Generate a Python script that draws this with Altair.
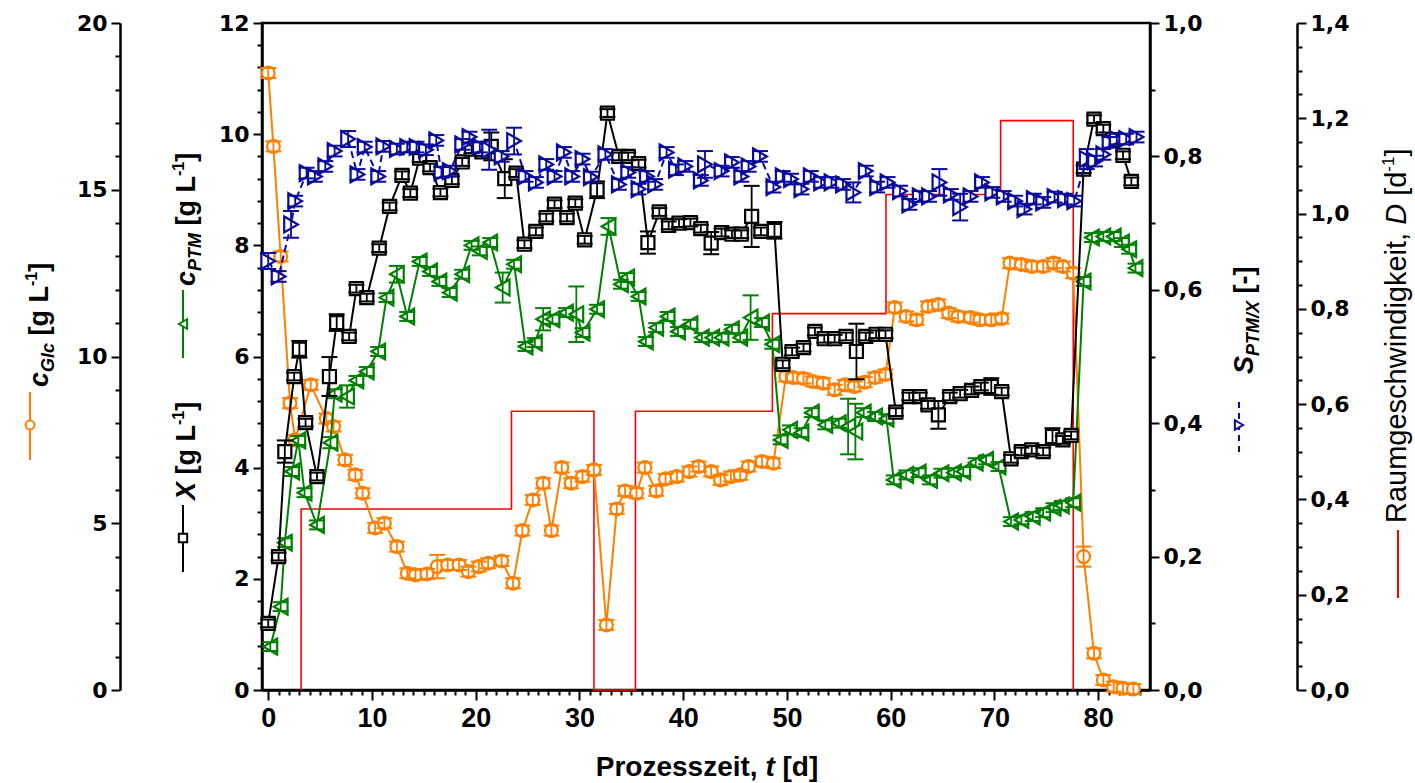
import altair as alt
import pandas as pd

# ---------------- data ----------------
# Glucose concentration c_Glc [g/L]  (orange, outer left axis 0-20)
t_glc = [0, 0.5, 1.2, 2.1, 2.6, 4.1, 5.6, 6.3, 7.4, 8.4, 9.1, 10.3, 11.2, 12.4, 13.4, 14.2, 15.3, 16.3, 17.3, 18.4,
         19.3, 20.3, 21.2, 22.5, 23.6, 24.5, 25.5, 26.5, 27.3, 28.3, 29.2, 30.3, 31.4, 32.6, 33.6, 34.4, 35.5, 36.3,
         37.4, 38.3, 39.4, 40.6, 41.5, 42.7, 43.6, 44.6, 45.5, 46.3, 47.6, 48.7, 49.9, 50.6, 51.6, 52.5, 53.5, 54.6,
         55.6, 56.5, 57.5, 58.5, 59.5, 60.4, 61.5, 62.5, 63.6, 64.6, 65.6, 66.5, 67.7, 68.6, 69.7, 70.7, 71.5, 72.6,
         73.6, 74.7, 75.7, 76.6, 77.6, 78.6, 79.6, 80.5, 81.5, 82.4, 83.4]
v_glc = [18.5, 16.3, 13.0, 8.6, 7.5, 9.15, 8.14, 7.9, 6.9, 6.45, 5.9, 4.86, 5.0, 4.3, 3.5, 3.45, 3.48, 3.7, 3.75, 3.75,
         3.55, 3.7, 3.8, 3.87, 3.2, 4.78, 5.7, 6.2, 4.78, 6.67, 6.2, 6.4, 6.6, 1.95, 5.43, 5.97, 5.9, 6.67,
         5.97, 6.33, 6.4, 6.55, 6.7, 6.55, 6.3, 6.4, 6.45, 6.7, 6.85, 6.8, 9.4, 9.37, 9.34, 9.25, 9.2, 9.0,
         9.15, 9.1, 9.23, 9.37, 9.46, 11.47, 11.2, 11.1, 11.5, 11.56, 11.3, 11.2, 11.17, 11.1, 11.1, 11.14, 12.8, 12.76,
         12.7, 12.7, 12.8, 12.7, 12.5, 4.0, 1.1, 0.3, 0.1, 0.05, 0.03]
glc_err_default = 0.15
glc_err_big = {16.3: 0.35, 78.6: 0.3}

# Biomass X [g/L]  (black, left axis 0-12)
t_x = [0, 1.0, 1.6, 2.5, 3.0, 3.6, 4.7, 5.9, 6.6, 7.8, 8.5, 9.5, 10.7, 11.7, 12.9, 13.7, 14.6, 15.6, 16.6, 17.7,
       18.7, 19.6, 20.6, 21.5, 22.8, 23.9, 24.7, 25.8, 26.8, 27.6, 28.8, 29.6, 30.5, 31.7, 32.7, 33.8, 34.7, 35.7,
       36.6, 37.7, 38.6, 39.6, 40.7, 41.7, 42.7, 43.7, 44.7, 45.6, 46.6, 47.5, 48.8, 49.6, 50.5, 51.6, 52.7, 53.6,
       54.6, 55.7, 56.7, 57.6, 58.6, 59.5, 60.5, 61.8, 62.8, 63.6, 64.6, 65.7, 66.7, 67.8, 68.7, 69.7, 70.7, 71.6,
       72.6, 73.6, 74.7, 75.6, 76.6, 77.4, 78.6, 79.6, 80.5, 81.4, 82.4, 83.2]
v_x = [1.2, 2.4, 4.29, 5.64, 6.13, 4.81, 3.84, 5.64, 6.61, 6.36, 7.22, 7.06, 7.95, 8.7, 9.26, 8.94, 9.57, 9.4, 8.95, 9.17,
       9.5, 9.73, 9.68, 9.78, 9.2, 9.3, 8.02, 8.25, 8.5, 8.74, 8.5, 8.76, 8.1, 9.0, 10.38, 9.6, 9.6, 9.47,
       8.05, 8.6, 8.36, 8.4, 8.41, 8.3, 8.04, 8.23, 8.2, 8.2, 8.52, 8.25, 8.27, 5.86, 6.09, 6.16, 6.45, 6.32,
       6.32, 6.36, 6.09, 6.36, 6.4, 6.4, 5.0, 5.28, 5.28, 5.13, 4.95, 5.28, 5.33, 5.39, 5.46, 5.46, 5.37, 4.16,
       4.29, 4.32, 4.29, 4.56, 4.5, 4.58, 9.37, 10.27, 10.1, 9.9, 9.62, 9.15]
x_err_default = 0.07
x_err_big = {1.6: 0.2, 3.0: 0.15, 5.9: 0.35, 6.6: 0.15, 21.5: 0.25, 22.8: 0.35, 31.7: 0.15, 36.6: 0.2,
             42.7: 0.2, 46.6: 0.55, 48.8: 0.15, 56.7: 0.5, 64.6: 0.25, 69.7: 0.15, 75.6: 0.15}

# Product c_PTM [g/L]  (green, left axis 0-12)
t_p = [0.2, 1.2, 1.6, 2.3, 2.9, 3.5, 4.7, 6.0, 6.4, 7.6, 8.5, 9.5, 10.6, 11.4, 12.4, 13.4, 14.6, 15.6, 16.5, 17.5,
       18.7, 19.6, 20.4, 21.4, 22.6, 23.7, 24.8, 25.7, 26.5, 27.4, 28.7, 29.7, 30.3, 31.7, 32.8, 34.0, 34.6, 35.7,
       36.4, 37.4, 38.5, 39.5, 40.7, 41.8, 42.8, 43.7, 44.7, 45.5, 46.5, 47.6, 48.6, 49.4, 50.3, 51.4, 52.4, 53.7,
       55.0, 55.9, 56.6, 57.4, 58.5, 59.6, 60.3, 61.5, 62.7, 63.8, 64.9, 66.1, 67.0, 68.2, 69.2, 70.4, 71.6, 72.6,
       73.7, 74.7, 75.7, 76.5, 77.6, 78.6, 79.4, 80.5, 81.5, 82.3, 83.0, 83.6]
v_p = [0.78, 1.5, 2.65, 3.93, 4.49, 3.55, 2.97, 4.45, 5.33, 5.28, 5.57, 5.73, 6.09, 7.06, 7.48, 6.72, 7.71, 7.53, 7.35, 7.15,
       7.48, 8.0, 7.9, 8.05, 7.24, 7.66, 6.18, 6.25, 6.67, 6.67, 6.79, 6.76, 6.43, 6.85, 8.34, 7.3, 7.42, 7.08,
       6.27, 6.52, 6.72, 6.45, 6.58, 6.34, 6.34, 6.34, 6.49, 6.34, 6.7, 6.61, 6.22, 4.5, 4.68, 4.63, 4.99, 4.77,
       4.8, 4.74, 4.65, 4.99, 4.92, 4.88, 3.78, 3.87, 3.91, 3.78, 3.9, 3.91, 3.93, 4.09, 4.14, 4.02, 3.03, 3.06,
       3.12, 3.19, 3.28, 3.32, 3.37, 7.35, 8.14, 8.16, 8.16, 8.05, 7.93, 7.59]
p_err_default = 0.08
p_err_big = {6.0: 0.1, 7.6: 0.2, 12.4: 0.15, 22.6: 0.27, 26.5: 0.2, 29.7: 0.5, 32.8: 0.15, 46.5: 0.4,
             55.9: 0.5, 56.6: 0.5}

# Selectivity S_PTM/X [-]  (blue, right axis 0-1)
t_s = [0, 1.0, 2.2, 2.6, 3.7, 4.5, 5.5, 6.4, 7.7, 8.6, 9.3, 10.6, 11.1, 12.4, 13.4, 14.3, 15.2, 16.2, 16.7, 17.5,
       18.7, 19.4, 20.4, 21.3, 22.5, 23.7, 24.8, 25.8, 26.8, 27.6, 28.5, 29.3, 30.3, 31.1, 32.5, 33.8, 34.7, 35.7,
       36.5, 37.3, 38.4, 39.3, 40.2, 41.7, 42.1, 43.7, 44.7, 45.6, 46.3, 47.4, 48.7, 49.6, 50.4, 51.4, 52.3, 53.3,
       54.3, 55.4, 56.4, 57.6, 58.7, 59.7, 60.9, 61.8, 62.8, 63.7, 64.7, 65.8, 66.7, 67.7, 68.8, 69.8, 70.9, 72.0,
       72.9, 73.8, 74.7, 75.8, 76.8, 77.7, 78.9, 79.7, 80.5, 81.1, 81.8, 82.7, 83.7]
v_s = [0.643, 0.62, 0.698, 0.733, 0.775, 0.77, 0.785, 0.808, 0.826, 0.773, 0.814, 0.77, 0.815, 0.811, 0.814, 0.814,
       0.81, 0.824, 0.776, 0.778, 0.818, 0.829, 0.814, 0.81, 0.80, 0.823, 0.77, 0.761, 0.788, 0.77, 0.806, 0.77,
       0.796, 0.769, 0.803, 0.758, 0.776, 0.751, 0.77, 0.758, 0.806, 0.78, 0.785, 0.764, 0.788, 0.778, 0.791, 0.77,
       0.785, 0.8, 0.754, 0.77, 0.766, 0.751, 0.77, 0.761, 0.761, 0.758, 0.746, 0.778, 0.754, 0.761, 0.748, 0.728,
       0.74, 0.74, 0.761, 0.743, 0.724, 0.74, 0.761, 0.746, 0.74, 0.733, 0.721, 0.736, 0.731, 0.739, 0.736, 0.733,
       0.796, 0.793, 0.803, 0.821, 0.826, 0.826, 0.829]
s_err_default = 0.008
s_err_big = {0: 0.012, 2.2: 0.02, 7.7: 0.012, 21.3: 0.03, 23.7: 0.02, 42.1: 0.02, 56.4: 0.015, 64.7: 0.02,
             66.7: 0.02, 78.9: 0.015}

# Dilution rate D [1/d]  (red step line, outer right axis 0-1.4)
t_d = [3.17, 3.17, 23.45, 31.4, 35.4, 48.6, 59.55, 70.6, 77.6]
v_d = [0.0, 0.38, 0.585, 0.0, 0.585, 0.79, 1.04, 1.195, 0.0]

# ---------------- layout ----------------
L, T = 262, 23          # plot origin in the page
W, H = 888, 667         # plot area
C_GLC, C_X, C_P, C_S, C_D = "#FF8000", "#000000", "#008000", "#0A0A9E", "#FF0000"
TICK_FONT = "DejaVu Sans"
TXT_FONT = "Liberation Sans"

x_scale = alt.Scale(domain=[-0.6, 85.0], nice=False, zero=False)
x_axis = alt.Axis(
    values=list(range(0, 85)),
    labelExpr="datum.value % 10 === 0 ? datum.label : ''",
    tickSize={"condition": {"test": "datum.value % 10 === 0", "value": 10}, "value": 5},
    tickWidth=2, tickColor="black", domainWidth=2.5, domainColor="black",
    labelFont=TXT_FONT, labelFontSize=27, labelFontWeight="bold",
    labelColor="black", labelPadding=5, labelFlush=False, labelOverlap=False, grid=False, title=None)


def y_axis(orient, offset, values, major_test, label_fmt):
    return alt.Axis(
        orient=orient, offset=offset, values=values,
        labelExpr=f"({major_test}) ? {label_fmt} : ''",
        tickSize={"condition": {"test": major_test, "value": 9}, "value": 5},
        tickWidth=2, tickColor="black", domainWidth=2.5, domainColor="black",
        labelFont=TICK_FONT, labelFontSize=22, labelFontWeight="bold", labelColor="black",
        labelPadding=4, labelFlush=False, labelOverlap=False, grid=False, title=None)


ax_x = y_axis("left", 0, [round(i * 0.4, 1) for i in range(31)],
              "round(datum.value*10) % 20 === 0", "format(datum.value, 'd')")
ax_glc = y_axis("left", 142, list(range(0, 21)), "datum.value % 5 === 0", "format(datum.value, 'd')")
ax_s = y_axis("right", 0, [i / 10 for i in range(11)], "round(datum.value*10) % 2 === 0",
              "replace(format(datum.value, '.1f'), '.', ',')")
ax_d = y_axis("right", 147, [i / 20 for i in range(29)], "round(datum.value*20) % 4 === 0",
              "replace(format(datum.value, '.1f'), '.', ',')")


def series(t, v, err_default, err_big, color, shape, size, domain, axis, dash=None):
    e = [err_big.get(tt, err_default) for tt in t]
    df = pd.DataFrame({"t": t, "v": v, "lo": [a - b for a, b in zip(v, e)], "hi": [a + b for a, b in zip(v, e)]})
    ys = alt.Scale(domain=domain, nice=False, zero=False)
    base = alt.Chart(df)
    X = alt.X("t:Q", scale=x_scale, axis=x_axis)
    line = base.mark_line(color=color, strokeWidth=2, strokeDash=dash if dash else [1, 0]).encode(
        x=X, y=alt.Y("v:Q", scale=ys, axis=axis), order="t:Q")
    pts = base.mark_point(shape=shape, size=size, filled=True, fill="white", stroke=color,
                          strokeWidth=2.2, opacity=1).encode(x=X, y=alt.Y("v:Q", scale=ys, axis=axis))
    rule = base.mark_rule(color=color, strokeWidth=1.8).encode(
        x=X, y=alt.Y("lo:Q", scale=ys, axis=axis), y2="hi:Q")
    cap_lo = base.mark_tick(orient="horizontal", size=16, thickness=2, color=color, opacity=1).encode(
        x=X, y=alt.Y("lo:Q", scale=ys, axis=axis))
    cap_hi = base.mark_tick(orient="horizontal", size=16, thickness=2, color=color, opacity=1).encode(
        x=X, y=alt.Y("hi:Q", scale=ys, axis=axis))
    return alt.layer(line, pts, rule, cap_lo, cap_hi)


layer_d = alt.Chart(pd.DataFrame({"t": t_d, "v": v_d})).mark_line(
    color=C_D, strokeWidth=1.6, interpolate="step-after").encode(
    x=alt.X("t:Q", scale=x_scale, axis=x_axis),
    y=alt.Y("v:Q", scale=alt.Scale(domain=[0, 1.4], nice=False, zero=False), axis=ax_d),
    order="t:Q")

layer_glc = series(t_glc, v_glc, glc_err_default, glc_err_big, C_GLC, "circle", 165, [0, 20], ax_glc)
layer_p = series(t_p, v_p, p_err_default, p_err_big, C_P, "triangle-left", 250, [0, 12], None)
layer_x = series(t_x, v_x, x_err_default, x_err_big, C_X, "square", 170, [0, 12], ax_x)
layer_s = series(t_s, v_s, s_err_default, s_err_big, C_S, "triangle-right", 250, [0, 1], ax_s, dash=[7, 4])

# ---------------- titles (rich text built from pieces) ----------------
BW = {' ': .278, '[': .333, ']': .333, 'g': .611, 'L': .611, '-': .333, '1': .556, 'c': .556, 'G': .778,
      'l': .278, 'P': .667, 'T': .611, 'M': .833, 'X': .667, 'S': .667, '/': .278, 'D': .722, 'd': .611,
      ',': .278, 'r': .389, 'o': .611, 'z': .5, 'e': .556, 's': .556, 'i': .278, 't': .333}
RW = {' ': .278, '[': .278, ']': .278, 'g': .556, '-': .333, '1': .556, 'D': .722, 'd': .556, ',': .278,
      'R': .722, 'a': .556, 'u': .556, 'm': .833, 'e': .556, 's': .5, 'c': .5, 'h': .556, 'w': .722,
      'i': .222, 'n': .556, 'k': .5, 't': .278}


def tw(s, fs, bold):
    tbl = BW if bold else RW
    return sum(tbl.get(ch, 0.6) for ch in s) * fs


one = pd.DataFrame({"k": [0]})
decor = []


def vtitle(x_base, y_start, pieces, color):
    y = y_start
    for s, fs, bold, italic, shift in pieces:
        lead = len(s) - len(s.lstrip(" "))
        y0 = y - tw(" " * lead, fs, bold)
        decor.append(alt.Chart(one).mark_text(
            text=s.strip(" "), angle=270, align="left", baseline="alphabetic", font=TXT_FONT, fontSize=fs,
            fontWeight="bold" if bold else "normal", fontStyle="italic" if italic else "normal",
            color=color).encode(x=alt.value(x_base + shift - L), y=alt.value(y0 - T)))
        y -= tw(s, fs, bold)


def legend_sym(x, y1, y2, ym, color, shape, dash=None, size=70):
    decor.append(alt.Chart(one).mark_rule(color=color, strokeWidth=2,
                                          strokeDash=dash if dash else [1, 0]).encode(
        x=alt.value(x - L), y=alt.value(y1 - T), y2=alt.value(y2 - T)))
    if shape:
        decor.append(alt.Chart(one).mark_point(shape=shape, size=size, filled=True, fill="white",
                                               stroke=color, strokeWidth=2, opacity=1).encode(
            x=alt.value(x - L), y=alt.value(ym - T)))


# c_Glc title (outer left)
legend_sym(30, 460, 392, 425, C_GLC, "circle", size=80)
vtitle(48, 387, [("c", 27, True, True, 0), ("Glc", 18, True, True, 6), (" [g L", 27, True, False, 0),
                 ("-1", 16, True, False, -11), ("]", 27, True, False, 0)], "black")
# X title
legend_sym(183, 572, 505, 538, C_X, "square", size=70)
vtitle(195, 500, [("X", 27, True, True, 0), (" [g L", 27, True, False, 0),
                  ("-1", 16, True, False, -11), ("]", 27, True, False, 0)], "black")
# c_PTM title
legend_sym(183, 358, 290, 324, C_P, "triangle-left", size=90)
vtitle(195, 286, [("c", 27, True, True, 0), ("PTM", 18, True, True, 6), (" [g L", 27, True, False, 0),
                  ("-1", 16, True, False, -11), ("]", 27, True, False, 0)], "black")
# S title (right)
legend_sym(1239, 452, 398, 425, C_S, "triangle-right", dash=[6, 5], size=90)
vtitle(1253, 374, [("S", 27, True, True, 0), ("PTM/X", 18, True, True, 6), (" [-]", 27, True, False, 0)], "black")
# D title (outer right)
legend_sym(1398, 598, 530, None, C_D, None)
vtitle(1406, 523, [("Raumgeschwindigkeit,", 29, False, False, 0), (" D", 29, False, True, 0),
                   (" [d", 29, False, False, 0), ("-1", 17, False, False, -12), ("]", 29, False, False, 0)],
       "black")

# x-axis title
xt = [("Prozesszeit,", False), (" t", True), (" [d]", False)]
fs_xt = 28
tot = sum(tw(s, fs_xt, True) for s, _ in xt)
xx = 707 - tot / 2
for s, it in xt:
    lead = len(s) - len(s.lstrip(" "))
    decor.append(alt.Chart(one).mark_text(
        text=s.strip(" "), align="left", baseline="alphabetic", font=TXT_FONT,
        fontSize=fs_xt, fontWeight="bold", fontStyle="italic" if it else "normal", color="black").encode(
        x=alt.value(xx + tw(" " * lead, fs_xt, True) - L), y=alt.value(776 - T)))
    xx += tw(s, fs_xt, True)

chart = alt.layer(layer_d, layer_glc, layer_p, layer_x, layer_s, *decor).resolve_scale(
    y="independent").properties(
    width=W, height=H,
    autosize=alt.AutoSizeParams(type="none"),
    padding={"left": L, "top": T, "right": 1415 - L - W, "bottom": 783 - T - H},
    background="white",
).configure_view(stroke="black", strokeWidth=2.5)

chart.save("out.html", embed_options={"renderer": "svg", "actions": False})
